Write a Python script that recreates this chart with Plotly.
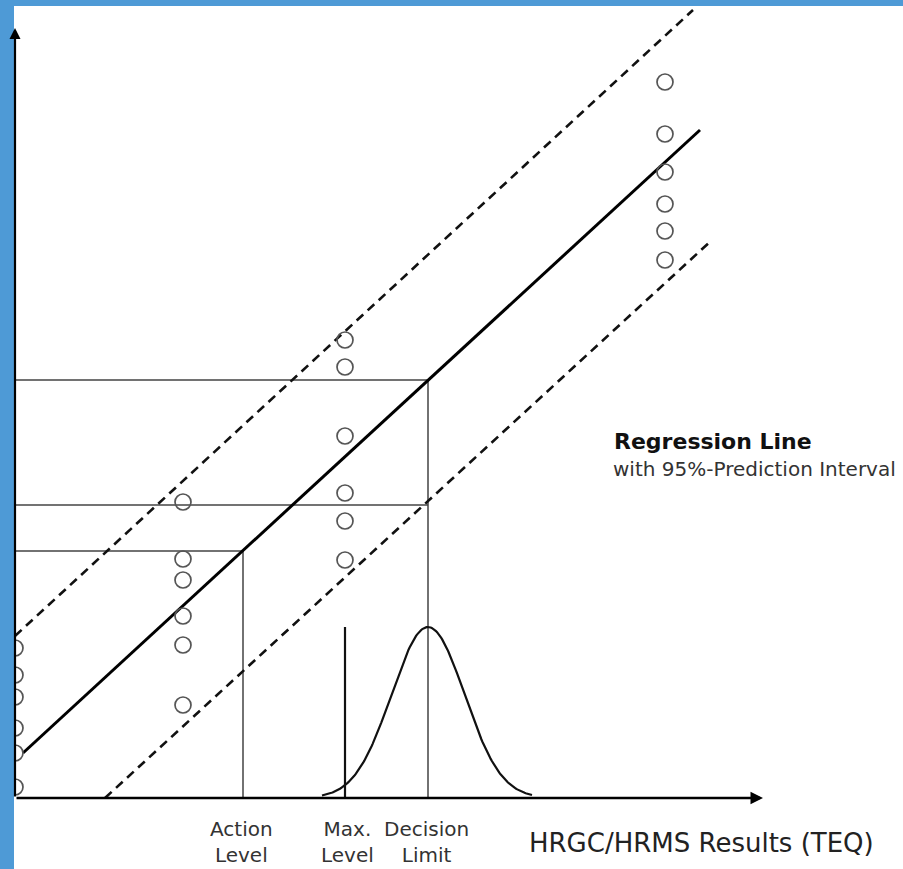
import numpy as np
import plotly.graph_objects as go

# ---- data (x: HRGC/HRMS TEQ units, y: bioassay response units) ----
col_x = [0.0, 16.8, 33.0, 65.0]
col1_y = [15.0, 12.3, 10.1, 7.0, 4.5, 1.1]
col2_y = [29.6, 23.9, 21.8, 18.2, 15.3, 9.3]
col3_y = [45.8, 43.1, 36.2, 30.5, 27.7, 23.8]
col4_y = [71.6, 66.4, 62.6, 59.4, 56.7, 53.8]

reg_x = [0.8, 68.5]
reg_y = [4.5, 66.8]
upper_x = [0.0, 67.8]
upper_y = [16.2, 78.8]
lower_x = [9.0, 69.7]
lower_y = [0.0, 55.8]

action_level = 22.8
action_resp = 24.7
max_level = 33.0
max_resp = 29.3
decision_limit = 41.3
decision_resp = 41.8

gauss_mean = 41.3
gauss_sd = 3.65
gauss_peak = 17.1
gauss_range = [30.7, 51.7]
max_bar_top = 17.1

x_axis_end = 74.8
y_axis_end = 77.0

fig = go.Figure()

thin = dict(color="#444444", width=1.5)
# reference lines
fig.add_trace(go.Scatter(x=[0, action_level, action_level], y=[action_resp, action_resp, 0],
                         mode="lines", line=thin))
fig.add_trace(go.Scatter(x=[0, decision_limit, decision_limit], y=[decision_resp, decision_resp, 0],
                         mode="lines", line=thin))
fig.add_trace(go.Scatter(x=[0, decision_limit], y=[max_resp, max_resp],
                         mode="lines", line=thin))
fig.add_trace(go.Scatter(x=[max_level, max_level], y=[0, max_bar_top],
                         mode="lines", line=dict(color="#111111", width=2.2)))

# gaussian
gx = np.linspace(gauss_range[0], gauss_range[1], 200)
gy = gauss_peak * np.exp(-0.5 * ((gx - gauss_mean) / gauss_sd) ** 2)
fig.add_trace(go.Scatter(x=gx, y=gy, mode="lines", line=dict(color="#111111", width=2.2)))

# prediction interval
dash = dict(color="#111111", width=2.6, dash="9px,6px")
fig.add_trace(go.Scatter(x=upper_x, y=upper_y, mode="lines", line=dash))
fig.add_trace(go.Scatter(x=lower_x, y=lower_y, mode="lines", line=dash))
# regression line
fig.add_trace(go.Scatter(x=reg_x, y=reg_y, mode="lines", line=dict(color="#000000", width=3)))

# points
for cx, ys in zip(col_x, [col1_y, col2_y, col3_y, col4_y]):
    fig.add_trace(go.Scatter(x=[cx] * len(ys), y=ys, mode="markers",
                             marker=dict(symbol="circle-open", size=16, color="#555555",
                                         line=dict(width=1.7))))

# axes with arrows
fig.add_annotation(x=x_axis_end, y=0, ax=0, ay=0, xref="x", yref="y", axref="x", ayref="y",
                   text="", showarrow=True, arrowhead=2, arrowsize=1, arrowwidth=2.5,
                   arrowcolor="#000000", standoff=0)
fig.add_annotation(x=0, y=y_axis_end, ax=0, ay=0, xref="x", yref="y", axref="x", ayref="y",
                   text="", showarrow=True, arrowhead=2, arrowsize=1, arrowwidth=2.2,
                   arrowcolor="#000000", standoff=0)

font = "DejaVu Sans"
lab = dict(family=font, size=20, color="#333333")
fig.add_annotation(x=22.6, y=-4.4, text="Action<br>Level", showarrow=False, font=lab,
                   xanchor="center", yanchor="middle", align="center")
fig.add_annotation(x=33.2, y=-4.4, text="Max.<br>Level", showarrow=False, font=lab,
                   xanchor="center", yanchor="middle", align="center")
fig.add_annotation(x=41.1, y=-4.4, text="Decision<br>Limit", showarrow=False, font=lab,
                   xanchor="center", yanchor="middle", align="center")
fig.add_annotation(x=51.2, y=-4.5, text="HRGC/HRMS Results (TEQ)", showarrow=False,
                   font=dict(family=font, size=26, color="#222222"),
                   xanchor="left", yanchor="middle")
fig.add_annotation(x=59.7, y=35.7, text="<b>Regression Line</b>", showarrow=False,
                   font=dict(family=font, size=22, color="#111111"),
                   xanchor="left", yanchor="middle")
fig.add_annotation(x=59.6, y=32.9, text="with 95%-Prediction Interval", showarrow=False,
                   font=dict(family=font, size=20, color="#333333"),
                   xanchor="left", yanchor="middle")

fig.update_layout(
    width=903, height=869,
    margin=dict(l=14, r=0, t=6, b=0),
    paper_bgcolor="#4e9ad6",
    plot_bgcolor="#ffffff",
    showlegend=False,
    xaxis=dict(range=[-0.1, 88.8], visible=False, fixedrange=True),
    yaxis=dict(range=[-7.1, 79.2], visible=False, fixedrange=True),
)

fig.write_html("out.html")
